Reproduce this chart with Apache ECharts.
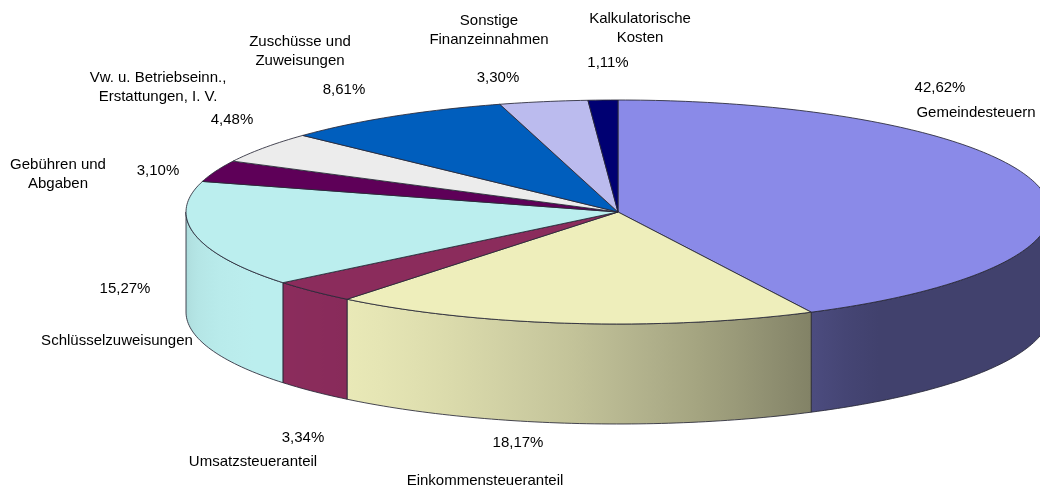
<!DOCTYPE html>
<html><head><meta charset="utf-8">
<script src="https://cdn.jsdelivr.net/npm/echarts@6/dist/echarts.min.js"></script>
<style>html,body{margin:0;padding:0;background:#fff}#c{width:1040px;height:490px}</style>
</head><body><div id="c"></div>
<script>
// ---- data ----
const categories = ['Gemeindesteuern', 'Einkommensteueranteil', 'Umsatzsteueranteil', 'Schlüsselzuweisungen',
  'Gebühren und\nAbgaben', 'Vw. u. Betriebseinn.,\nErstattungen, I. V.', 'Zuschüsse und\nZuweisungen',
  'Sonstige\nFinanzeinnahmen', 'Kalkulatorische\nKosten'];
const shares = [42.62, 18.17, 3.34, 15.27, 3.10, 4.48, 8.61, 3.30, 1.11];

// ---- styles / layout ----
const colors = ['#8a8ae8', '#eeeebb', '#8b2c5c', '#bbeeee', '#5e0058', '#ececec', '#005ebd', '#bbbbee', '#000072'];
const PIE = { cx: 618, cy: 212, rx: 432, ry: 112, depth: 100 };
// label anchors: [nameX, nameY, pctX, pctY]
const LABEL_POS = [[976, 113, 940, 88], [485, 481, 518, 443], [253, 462, 303, 438], [117, 341, 125, 289],
  [58, 174, 158, 171], [158, 87, 232, 120], [300, 51, 344, 90], [489, 30, 498, 78], [640, 28, 608, 63]];
const FONT = '15px "Liberation Sans", Arial, sans-serif';
const EDGE = 'rgba(40,40,55,0.85)';

const total = shares.reduce((a, b) => a + b, 0);
const cum = [];
shares.reduce((acc, v, i) => { cum[i] = acc; return acc + v; }, 0);

function hexToRgb(h) { h = h.replace('#', ''); return [0, 2, 4].map(k => parseInt(h.substr(k, 2), 16)); }
function shade(hex, f) {
  const c = hexToRgb(hex).map(x => Math.max(0, Math.min(255, Math.round(x * f))));
  return 'rgb(' + c.join(',') + ')';
}
function lightFactor(t) {
  const L = 235 * Math.PI / 180;
  return 0.47 + 0.53 * Math.max(0, Math.cos(t - L));
}
function pt(t, dy) { return [PIE.cx + PIE.rx * Math.sin(t), PIE.cy - PIE.ry * Math.cos(t) + dy]; }

function renderItem(params, api) {
  const i = params.dataIndex;
  const v = api.value(0);
  const TWO = Math.PI * 2;
  const start = cum[i] / total * TWO, end = (cum[i] + v) / total * TWO;
  const step = Math.PI / 180;
  const children = [];
  // side wall (front half only)
  const ws = Math.max(start, Math.PI / 2), we = Math.min(end, Math.PI * 1.5);
  if (we > ws) {
    const n = Math.max(2, Math.ceil((we - ws) / step));
    const pts = [];
    for (let k = 0; k <= n; k++) pts.push(pt(ws + (we - ws) * k / n, 0));
    for (let k = n; k >= 0; k--) pts.push(pt(ws + (we - ws) * k / n, PIE.depth));
    const x0 = pt(ws, 0)[0], x1 = pt(we, 0)[0];
    const stops = [];
    const m = 12;
    for (let k = 0; k <= m; k++) {
      const t = ws + (we - ws) * k / m;
      const x = pt(t, 0)[0];
      const off = Math.abs(x0 - x1) < 0.01 ? k / m : (x0 - x) / (x0 - x1);
      stops.push({ offset: Math.max(0, Math.min(1, off)), color: shade(colors[i], lightFactor(t)) });
    }
    children.push({
      type: 'polygon', shape: { points: pts },
      style: { fill: { type: 'linear', x: x0, y: 0, x2: x1, y2: 0, global: true, colorStops: stops }, stroke: EDGE, lineWidth: 1 }
    });
  }
  // top face
  const n2 = Math.max(2, Math.ceil((end - start) / step));
  const top = [[PIE.cx, PIE.cy]];
  for (let k = 0; k <= n2; k++) top.push(pt(start + (end - start) * k / n2, 0));
  children.push({ type: 'polygon', shape: { points: top }, style: { fill: colors[i], stroke: EDGE, lineWidth: 1 } });
  // labels
  const lp = LABEL_POS[i];
  children.push({ type: 'text', x: lp[0], y: lp[1], style: { text: categories[i], font: FONT, fill: '#000', align: 'center', verticalAlign: 'middle', lineHeight: 19 } });
  children.push({ type: 'text', x: lp[2], y: lp[3], style: { text: v.toFixed(2).replace('.', ',') + '%', font: FONT, fill: '#000', align: 'center', verticalAlign: 'middle' } });
  return { type: 'group', children };
}

const chart = echarts.init(document.getElementById('c'), null, { renderer: 'canvas' });
chart.setOption({
  animation: false,
  backgroundColor: '#ffffff',
  series: [{
    type: 'custom',
    coordinateSystem: 'none',
    renderItem,
    data: shares.map((v, i) => ({ value: [v, i], name: categories[i] }))
  }]
});
</script>
</body></html>
